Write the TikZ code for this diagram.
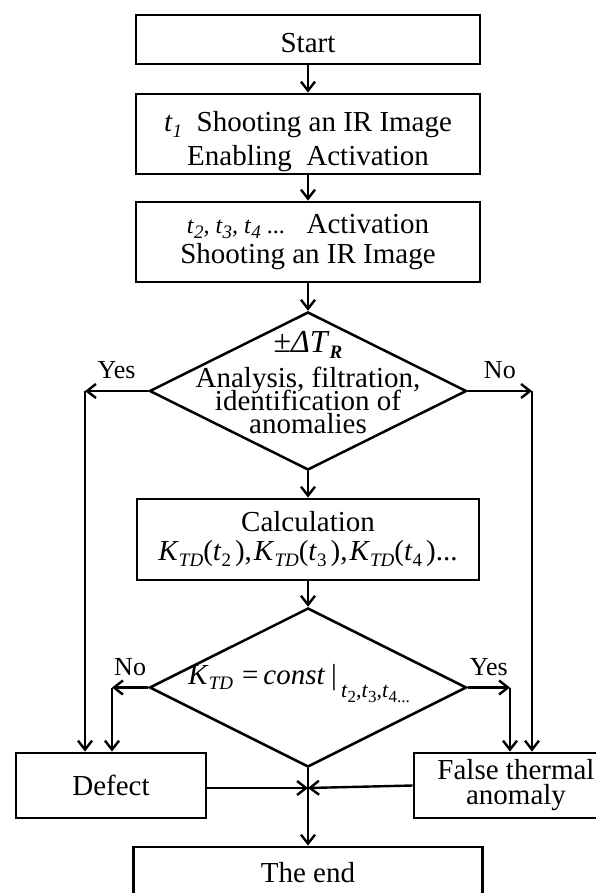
\documentclass[tikz,border=0pt]{standalone}
\usepackage{fontspec}
\setmainfont{Liberation Serif}
\usetikzlibrary{shapes.geometric,arrows.meta}
% lowered indices, one and two levels down
\newcommand{\lw}[1]{\raisebox{-0.45ex}{\fontsize{19}{19}\selectfont #1}}
\newcommand{\lwb}[1]{\raisebox{-5pt}{\fontsize{17}{17}\selectfont #1}}
\newcommand{\ktd}{\textit{K}\lw{\textit{TD}}}
\newcommand{\tightlines}{\lineskiplimit=-50pt\relax}

\begin{document}
\begin{tikzpicture}[x=1pt, y=-1pt,
    box/.style={draw, line width=2.8pt, minimum width=344pt, minimum height=80pt,
      inner sep=0pt, align=center, font=\fontsize{29}{34}\selectfont},
    dia/.style={draw, diamond, line width=2.5pt, minimum width=317pt,
      minimum height=158pt, inner sep=0pt},
    txt/.style={font=\fontsize{29}{23}\selectfont\tightlines, inner sep=0pt, align=center},
    lbl/.style={font=\fontsize{26}{26}\selectfont, inner sep=0pt, above=11pt},
    arr/.style={->, line width=2.4pt},
    >={Straight Barb[length=9pt,width=14pt]}]
    \def\cx{308}   % main column
    \useasboundingbox (0,0) rectangle (596,893);
    \clip (0,0) rectangle (596,893);

    % main column
    \node[box, minimum height=49pt] (start) at (\cx,39.5) {\rule{0pt}{26pt}Start};
    \node[box] (shoot1) at (\cx,134)
      {\rule{0pt}{36pt}\textit{t}\lw{\textit{1}}\ \ Shooting an IR Image\\ Enabling\ \ Activation};
    \node[box, font=\fontsize{29}{21}\selectfont] (shoot2) at (\cx,242)
      {{\fontsize{24}{21}\selectfont\textit{t}\lw{\textit{2}}\textit{,} \textit{t}\lw{\textit{3}}\textit{,} \textit{t}\lw{\textit{4}} ...}\ \ \ Activation\\[3pt] Shooting an IR Image};

    % first check
    \node[dia] (d1) at (\cx,391) {};
    \node[txt, anchor=north] (d1t) at (\cx,331)
      {{\fontsize{32}{23}\selectfont ±\textit{ΔT}\lw{\textbf{\textit{R}}}}\\[12pt]
       Analysis, filtration,\\ identification of\\ anomalies};

    \node[box, minimum width=342pt, minimum height=81pt, font=\fontsize{29}{29}\selectfont] (calc) at (\cx,539.5)
      {Calculation\\ \ktd(\textit{t}\lw{2}\hspace{4pt}),\hspace{2pt}\ktd(\textit{t}\lw{3}\hspace{4pt}),\hspace{2pt}\ktd(\textit{t}\lw{4}\hspace{4pt})...};

    % second check
    \node[dia, minimum height=159pt] (d2) at (\cx,687.5) {};
    \node[txt, anchor=base west, font=\fontsize{29}{29}\selectfont] (d2t) at (188,684)
      {\ktd\hspace{9pt}=\hspace{5pt}\textit{const}\hspace{6pt}|\hspace{4pt}\raisebox{-13pt}{\fontsize{22}{22}\selectfont\textit{t}\lwb{2}\textit{,t}\lwb{3}\textit{,t}\lwb{4}\lwb{...}}};

    % outcomes
    \node[box, minimum width=190pt, minimum height=65pt] (defect) at (111,785.5) {Defect};
    \node[box, minimum width=204pt, minimum height=65pt, font=\fontsize{29}{25}\selectfont] (false) at (516,785.5)
      {False thermal\\ anomaly};
    \node[box, minimum width=349pt, minimum height=52pt] (theend) at (\cx,873) {The end};

    % bends and the join
    \coordinate (yc1) at (85,391);
    \coordinate (nc1) at (532,391);
    \coordinate (nc2) at (112,687.5);
    \coordinate (yc2) at (510,687.5);
    \coordinate (jn) at (\cx,788);

    \draw[arr] (start) -- (shoot1);
    \draw[arr] (shoot1) -- (shoot2);
    \draw[arr] (shoot2) -- (d1);
    \draw[arr] (d1) -- (calc);
    \draw[arr] (calc) -- (d2);

    \draw[arr] (d1.west) -- node[lbl] {Yes} (yc1);
    \draw[arr] (yc1) -- (yc1 |- defect.north);
    \draw[arr] (d1.east) -- node[lbl] {No} (nc1);
    \draw[arr] (nc1) -- (nc1 |- false.north);
    \draw[arr] (d2.west) -- node[lbl] {No} (nc2);
    \draw[arr] (nc2) -- (nc2 |- defect.north);
    \draw[arr] (d2.east) -- node[lbl] {Yes} (yc2);
    \draw[arr] (yc2) -- (yc2 |- false.north);

    \draw[arr] (defect.east |- jn) -- (jn);
    \draw[arr] (false.west) -- (jn);
    \draw[arr] (d2.south) -- (theend);

\end{tikzpicture}
\end{document}
